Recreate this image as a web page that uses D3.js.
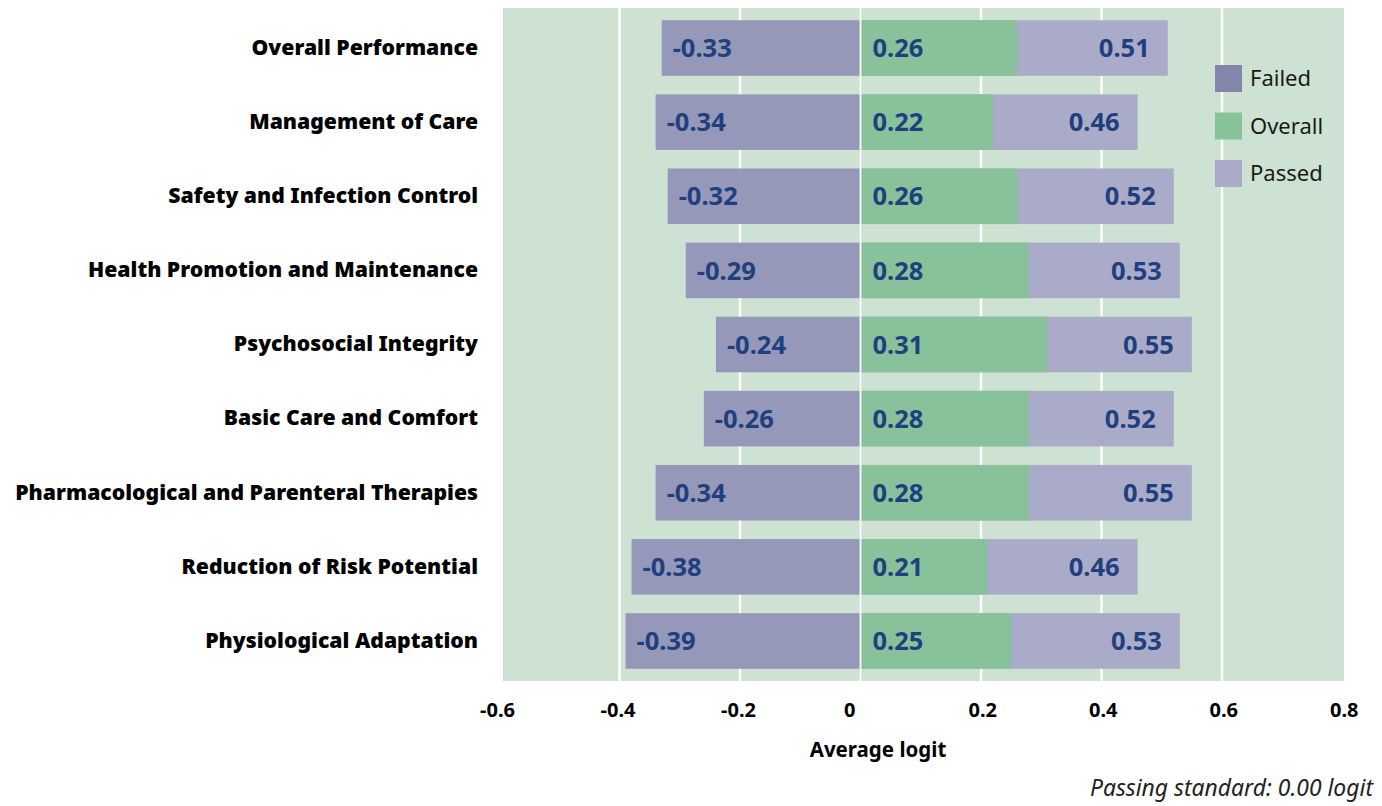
<!DOCTYPE html>
<html>
<head>
<meta charset="utf-8">
<script src="https://cdn.jsdelivr.net/npm/d3@7"></script>
<style>
  body { margin: 0; background: #fff; }
  svg { display: block; font-family: "Noto Sans", "Open Sans", sans-serif; }
</style>
</head>
<body>
<svg id="chart" width="1382" height="806"></svg>
<script>
var categories = [
  "Overall Performance",
  "Management of Care",
  "Safety and Infection Control",
  "Health Promotion and Maintenance",
  "Psychosocial Integrity",
  "Basic Care and Comfort",
  "Pharmacological and Parenteral Therapies",
  "Reduction of Risk Potential",
  "Physiological Adaptation"
];
var failed  = [-0.33, -0.34, -0.32, -0.29, -0.24, -0.26, -0.34, -0.38, -0.39];
var overall = [0.26, 0.22, 0.26, 0.28, 0.31, 0.28, 0.28, 0.21, 0.25];
var passed  = [0.51, 0.46, 0.52, 0.53, 0.55, 0.52, 0.55, 0.46, 0.53];
var xTicks = [-0.6, -0.4, -0.2, 0, 0.2, 0.4, 0.6, 0.8];
var legendItems = ["Failed", "Overall", "Passed"];

var colors = {
  failed: "#9598b8",
  failedKey: "#8385aa",
  overall: "#88c29a",
  passed: "#aaabc8",
  bg: "#cde2d2",
  label: "#1f3f7f"
};

var svg = d3.select("#chart");

var x = d3.scaleLinear().domain([-0.6, 0.8]).range([499, 1342.5]);
var y = d3.scaleBand()
  .domain(categories)
  .range([8, 681])
  .paddingInner(0.25)
  .paddingOuter(0.165);

var rows = categories.map(function (c, i) {
  return { cat: c, failed: failed[i], overall: overall[i], passed: passed[i] };
});

// hyphen instead of unicode minus, like the original
var fmt = d3.formatLocale({ decimal: ".", thousands: ",", grouping: [3], currency: ["", ""], minus: "-" }).format(".2f");

// plot background
svg.append("rect")
  .attr("x", x(-0.6) + 4)
  .attr("y", 8)
  .attr("width", x(0.8) - x(-0.6) - 2.5)
  .attr("height", 673)
  .attr("fill", colors.bg);

// gridlines (behind bars)
svg.append("g")
  .selectAll("line")
  .data(xTicks.filter(function (t) { return t > -0.6 && t < 0.8 && t !== 0; }))
  .enter().append("line")
    .attr("x1", function (d) { return x(d); })
    .attr("x2", function (d) { return x(d); })
    .attr("y1", 8)
    .attr("y2", 681)
    .attr("stroke", "#fff")
    .attr("stroke-width", 2.5);

var bars = svg.append("g")
  .selectAll("g")
  .data(rows)
  .enter().append("g")
    .attr("transform", function (d) { return "translate(0," + y(d.cat) + ")"; });

var bh = y.bandwidth();

bars.append("rect")
  .attr("x", function (d) { return x(d.failed); })
  .attr("width", function (d) { return x(0) - x(d.failed); })
  .attr("height", bh)
  .attr("fill", colors.failed);

bars.append("rect")
  .attr("x", x(0))
  .attr("width", function (d) { return x(d.passed) - x(0); })
  .attr("height", bh)
  .attr("fill", colors.passed);

bars.append("rect")
  .attr("x", x(0))
  .attr("width", function (d) { return x(d.overall) - x(0); })
  .attr("height", bh)
  .attr("fill", colors.overall);

// zero line sits over the bars
svg.append("line")
  .attr("x1", x(0)).attr("x2", x(0))
  .attr("y1", 8).attr("y2", 681)
  .attr("stroke", "#fff")
  .attr("stroke-width", 1.8);

function valueLabel(sel) {
  sel.attr("y", bh / 2)
    .attr("dy", "0.36em")
    .attr("fill", colors.label)
    .style("font-size", "25.5px")
    .style("font-weight", "bold");
}

bars.append("text")
  .call(valueLabel)
  .attr("x", function (d) { return x(d.failed) + 11; })
  .text(function (d) { return fmt(d.failed); });

bars.append("text")
  .call(valueLabel)
  .attr("x", x(0) + 12)
  .text(function (d) { return fmt(d.overall); });

bars.append("text")
  .call(valueLabel)
  .attr("x", function (d) { return x(d.passed) - 18; })
  .attr("text-anchor", "end")
  .text(function (d) { return fmt(d.passed); });

// category axis
var yAxis = svg.append("g")
  .attr("transform", "translate(478,0)")
  .call(d3.axisLeft(y).tickSize(0).tickPadding(0));
yAxis.select(".domain").remove();
yAxis.selectAll("text")
  .attr("fill", "#000")
  .style("font-size", "21.2px")
  .style("font-weight", "900")
  .style("font-family", "'Noto Sans', sans-serif");

// value axis: number left-set near the gridline, minus sign hangs left
var xAxis = svg.append("g")
  .attr("transform", "translate(0,717)")
  .call(d3.axisBottom(x).tickValues(xTicks).tickSize(0).tickPadding(0)
    .tickFormat(function (d) { return d === 0 ? "0" : d3.format(".1f")(Math.abs(d)); }));
xAxis.select(".domain").remove();
xAxis.selectAll(".tick text")
  .attr("y", 0)
  .attr("dy", 0)
  .attr("x", function (d) { return d === 0 ? -17 : -13; })
  .attr("text-anchor", "start");
xAxis.selectAll(".tick").filter(function (d) { return d < 0; })
  .append("text")
    .attr("x", -13)
    .attr("text-anchor", "end")
    .text("-");
xAxis.selectAll("text")
  .attr("fill", "#000")
  .style("font-size", "20px")
  .style("font-weight", "bold")
  .style("font-family", "'Noto Sans', sans-serif");

svg.append("text")
  .attr("x", 878)
  .attr("y", 757)
  .attr("text-anchor", "middle")
  .style("font-size", "20.5px")
  .style("font-weight", "bold")
  .text("Average logit");

svg.append("text")
  .attr("x", 1373)
  .attr("y", 796)
  .attr("text-anchor", "end")
  .style("font-size", "22.9px")
  .style("font-style", "italic")
  .attr("fill", "#222")
  .text("Passing standard: 0.00 logit");

// legend
var keyColors = [colors.failedKey, colors.overall, colors.passed];
var legend = svg.append("g")
  .selectAll("g")
  .data(legendItems)
  .enter().append("g")
    .attr("transform", function (d, i) { return "translate(1215," + (65 + i * 47.5) + ")"; });

legend.append("rect")
  .attr("width", 27)
  .attr("height", 27)
  .attr("fill", function (d, i) { return keyColors[i]; });

legend.append("text")
  .attr("x", 35)
  .attr("y", 13.5)
  .attr("dy", "0.36em")
  .attr("fill", "#1a1a1a")
  .style("font-size", "22px")
  .text(function (d) { return d; });
</script>
</body>
</html>
